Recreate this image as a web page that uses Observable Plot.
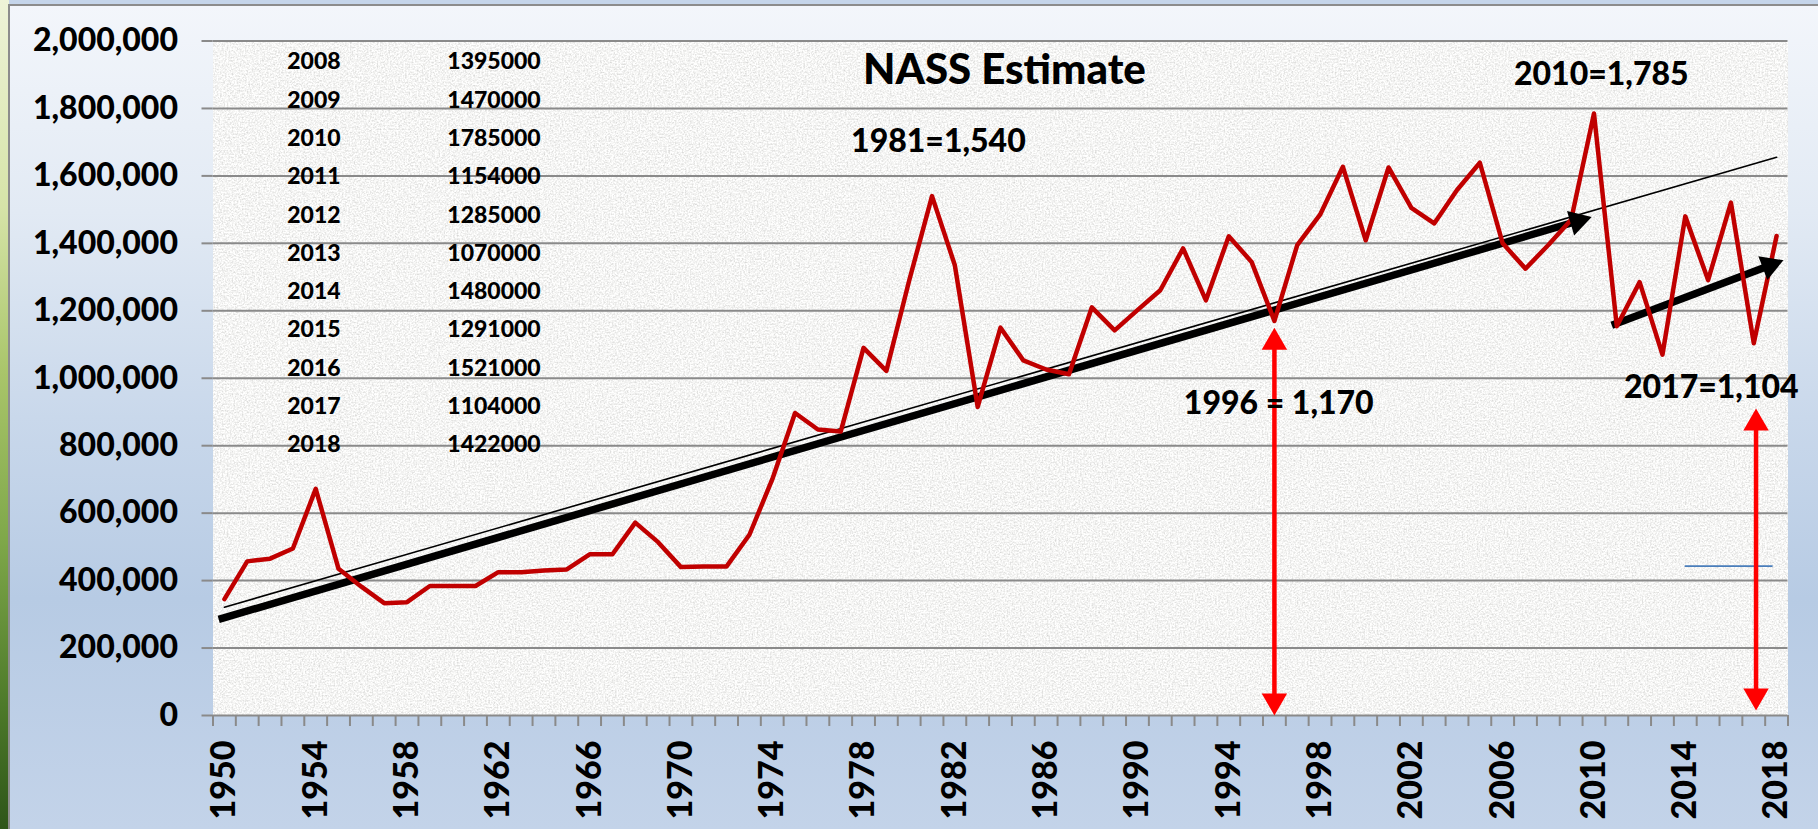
<!DOCTYPE html>
<html>
<head>
<meta charset="utf-8">
<script src="https://cdn.jsdelivr.net/npm/d3@7"></script>
<script src="https://cdn.jsdelivr.net/npm/@observablehq/plot@0.6"></script>
<style>
  html, body { margin: 0; padding: 0; width: 1818px; height: 829px; overflow: hidden; background: #c5d5ea; }
  #wrap { position: relative; width: 1818px; height: 829px; }
  #leaf { position: absolute; left: 0; top: 0; width: 9px; height: 829px;
    background: linear-gradient(to bottom, #eef3d8 0%, #d6e4a8 25%, #a9c56a 45%, #7fa84a 65%, #4d7a2a 85%, #2e5518 100%); }
  #panel { position: absolute; left: 8px; top: 4px; right: 0; bottom: 0;
    border-left: 2px solid #8c8c8c; border-top: 2px solid #8c8c8c;
    background: linear-gradient(to bottom, #f3f6fb 0%, #e2eaf4 25%, #c9d8eb 50%, #b7cbe4 72%, #c3d3e9 100%); }
  #chart { position: absolute; left: 0; top: 0; }
</style>
</head>
<body>
<div id="wrap"><div id="leaf"></div><div id="panel"></div><div id="chart"></div></div>
<script>
// ---------- data ----------
const years = [1950,1951,1952,1953,1954,1955,1956,1957,1958,1959,1960,1961,1962,1963,1964,1965,1966,1967,1968,1969,
  1970,1971,1972,1973,1974,1975,1976,1977,1978,1979,1980,1981,1982,1983,1984,1985,1986,1987,1988,1989,
  1990,1991,1992,1993,1994,1995,1996,1997,1998,1999,2000,2001,2002,2003,2004,2005,2006,2007,2008,2009,
  2010,2011,2012,2013,2014,2015,2016,2017,2018];
const production = [345000,457000,465000,495000,672000,435000,382000,333000,336000,384000,384000,384000,425000,425000,430000,433000,478000,478000,572000,514000,
  440000,442000,442000,536000,700000,897000,848000,842000,1090000,1022000,1290000,1540000,1335000,915000,1150000,1053000,1026000,1012000,1210000,1142000,
  1202000,1261000,1385000,1231000,1421000,1345000,1170000,1395000,1485000,1627000,1409000,1625000,1505000,1459000,1558000,1639000,1400000,1325000,1395000,1470000,
  1785000,1154000,1285000,1070000,1480000,1291000,1521000,1104000,1422000];

const yTicks = [0,200000,400000,600000,800000,1000000,1200000,1400000,1600000,1800000,2000000];
const xTickLabels = [1950,1954,1958,1962,1966,1970,1974,1978,1982,1986,1990,1994,1998,2002,2006,2010,2014,2018];

const tableYears  = ["2008","2009","2010","2011","2012","2013","2014","2015","2016","2017","2018"];
const tableValues = ["1395000","1470000","1785000","1154000","1285000","1070000","1480000","1291000","1521000","1104000","1422000"];

// trend lines (start, end)
const trendThinX = [1950, 2018];       const trendThinY = [321000, 1655000];
const trendArrow1X = [1949.75, 2009.9]; const trendArrow1Y = [285000, 1478000];
const trendArrow2X = [2010.78, 2018.3]; const trendArrow2Y = [1157000, 1350000];
// red double arrows
const redArrow1X = [1996, 1996];       const redArrow1Y = [0, 1150000];
const redArrow2X = [2017.1, 2017.1];   const redArrow2Y = [15000, 910000];
// short blue line
const blueX = [2014.0, 2017.8];        const blueY = [443000, 443000];

// annotations
const annoText = ["NASS Estimate", "1981=1,540", "2010=1,785", "1996 = 1,170", "2017=1,104"];
const annoX    = [1984.17, 1981.28, 2010.32, 1996.19, 2015.14];
const annoY    = [1913000, 1701000, 1899000, 923000, 972000];
const annoSize = [42, 32, 32, 32, 32];

// ---------- layout ----------
const FONT = "Lato, 'Open Sans', 'Noto Sans', sans-serif";
const W = 900;
const base = {
  width: 1818, height: 829,
  marginLeft: 212.5, marginRight: 30.5, marginTop: 40.5, marginBottom: 114,
  x: {type: "linear", domain: [1949.5, 2018.5], label: null},
  y: {domain: [0, 2000000], label: null},
  style: {background: "transparent", fontFamily: FONT, overflow: "visible"}
};

const pre = Plot.plot({...base, marks: [Plot.frame()]});
const sx = pre.scale("x"), sy = pre.scale("y");

const HEAD = 22;
const headR = Math.sqrt(3 * Math.sqrt(3) * (HEAD / 3) ** 2 / Math.PI);
function arrowParts(xs, ys, color, both) {
  const p1 = [sx.apply(xs[0]), sy.apply(ys[0])], p2 = [sx.apply(xs[1]), sy.apply(ys[1])];
  const L = Math.hypot(p2[0] - p1[0], p2[1] - p1[1]);
  const u = [(p2[0] - p1[0]) / L, (p2[1] - p1[1]) / L];
  const heads = [];
  const mk = (tip, dir) => {
    const c = [tip[0] - dir[0] * HEAD * 2 / 3, tip[1] - dir[1] * HEAD * 2 / 3];
    heads.push({x: sx.invert(c[0]), y: sy.invert(c[1]), rotate: Math.atan2(dir[0], -dir[1]) * 180 / Math.PI, color});
    return [tip[0] - dir[0] * HEAD * 0.6, tip[1] - dir[1] * HEAD * 0.6];
  };
  const b = mk(p2, u);
  const a = both ? mk(p1, [-u[0], -u[1]]) : p1;
  return {line: [{x: sx.invert(a[0]), y: sy.invert(a[1])}, {x: sx.invert(b[0]), y: sy.invert(b[1])}], heads};
}

const a1 = arrowParts(trendArrow1X, trendArrow1Y, "#000", false);
const a2 = arrowParts(trendArrow2X, trendArrow2Y, "#000", false);
const r1 = arrowParts(redArrow1X, redArrow1Y, "#ff0000", true);
const r2 = arrowParts(redArrow2X, redArrow2Y, "#ff0000", true);

const series = years.map((year, i) => ({year, value: production[i]}));
const thin = trendThinX.map((x, i) => ({x, y: trendThinY[i]}));
const blue = blueX.map((x, i) => ({x, y: blueY[i]}));
const table = tableYears.map((yr, i) => ({yr, val: tableValues[i], i}));
const annos = annoText.map((t, i) => ({t, x: annoX[i], y: annoY[i], s: annoSize[i]}));
const boundaries = d3.range(1949.5, 2019, 1);

const tableRowY = i => 1938000 - i * 113600;
const tableColYear = 1953.92, tableColVal = 1961.81;

const chart = Plot.plot({
  ...base,
  marks: [
    Plot.frame({fill: "#e6e6e4", stroke: null}),
    Plot.ruleY(yTicks, {stroke: "#8a8a8a", strokeWidth: 2}),
    Plot.axisY(yTicks, {tickSize: 11, tickPadding: 24, stroke: "#8a8a8a", strokeWidth: 2,
      tickFormat: d3.format(","), fontSize: 32, fontWeight: W, fontFamily: FONT, fill: "#000", label: null}),
    Plot.axisX(boundaries, {tickSize: 11, stroke: "#8a8a8a", strokeWidth: 2, tickFormat: () => "", label: null}),
    Plot.axisX(xTickLabels, {tickSize: 0, tickPadding: 25, tickRotate: -90, tickFormat: d => String(d),
      fontSize: 34, fontWeight: W, fontFamily: FONT, fill: "#000", label: null}),
    // table of recent values
    Plot.text(table, {x: () => tableColYear, y: d => tableRowY(d.i), text: "yr", fontSize: 23, fontWeight: W, fontFamily: FONT, fill: "#000"}),
    Plot.text(table, {x: () => tableColVal, y: d => tableRowY(d.i), text: "val", fontSize: 23, fontWeight: W, fontFamily: FONT, fill: "#000"}),
    // trend lines
    Plot.line(thin, {x: "x", y: "y", stroke: "#000", strokeWidth: 1.6}),
    Plot.line(a1.line, {x: "x", y: "y", stroke: "#000", strokeWidth: 7.5, strokeLinecap: "butt"}),
    Plot.line(a2.line, {x: "x", y: "y", stroke: "#000", strokeWidth: 7.5, strokeLinecap: "butt"}),
    // data
    Plot.line(series, {x: "year", y: "value", stroke: "#c00000", strokeWidth: 4.5, strokeLinejoin: "round"}),
    Plot.dot([...a1.heads, ...a2.heads], {x: "x", y: "y", symbol: "triangle", r: headR, rotate: "rotate", fill: "color", stroke: null}),
    // blue marker line
    Plot.line(blue, {x: "x", y: "y", stroke: "#4a7ebb", strokeWidth: 1.6}),
    // red double arrows
    Plot.line(r1.line, {x: "x", y: "y", stroke: "#ff0000", strokeWidth: 4.5, strokeLinecap: "butt"}),
    Plot.line(r2.line, {x: "x", y: "y", stroke: "#ff0000", strokeWidth: 4.5, strokeLinecap: "butt"}),
    Plot.dot([...r1.heads, ...r2.heads], {x: "x", y: "y", symbol: "triangle", r: headR, rotate: "rotate", fill: "color", stroke: null}),
    // annotations
    Plot.text(annos, {x: "x", y: "y", text: "t", fontSize: d => d.s, fontWeight: W, fontFamily: FONT, fill: "#000"})
  ]
});

// granite texture for the plot area
const ns = "http://www.w3.org/2000/svg";
const defs = document.createElementNS(ns, "defs");
defs.innerHTML = `<filter id="granite" filterUnits="objectBoundingBox" x="0" y="0" width="1" height="1">
  <feTurbulence type="fractalNoise" baseFrequency="0.6" numOctaves="3" seed="11" result="n"/>
  <feColorMatrix in="n" type="matrix" values="0.6 0 0 0 0.61  0.6 0 0 0 0.61  0.6 0 0 0 0.60  0 0 0 0 1"/>
</filter>`;
chart.insertBefore(defs, chart.firstChild);
const frame = chart.querySelector('[aria-label="frame"]');
if (frame) frame.setAttribute("filter", "url(#granite)");

document.getElementById("chart").appendChild(chart);
</script>
</body>
</html>
